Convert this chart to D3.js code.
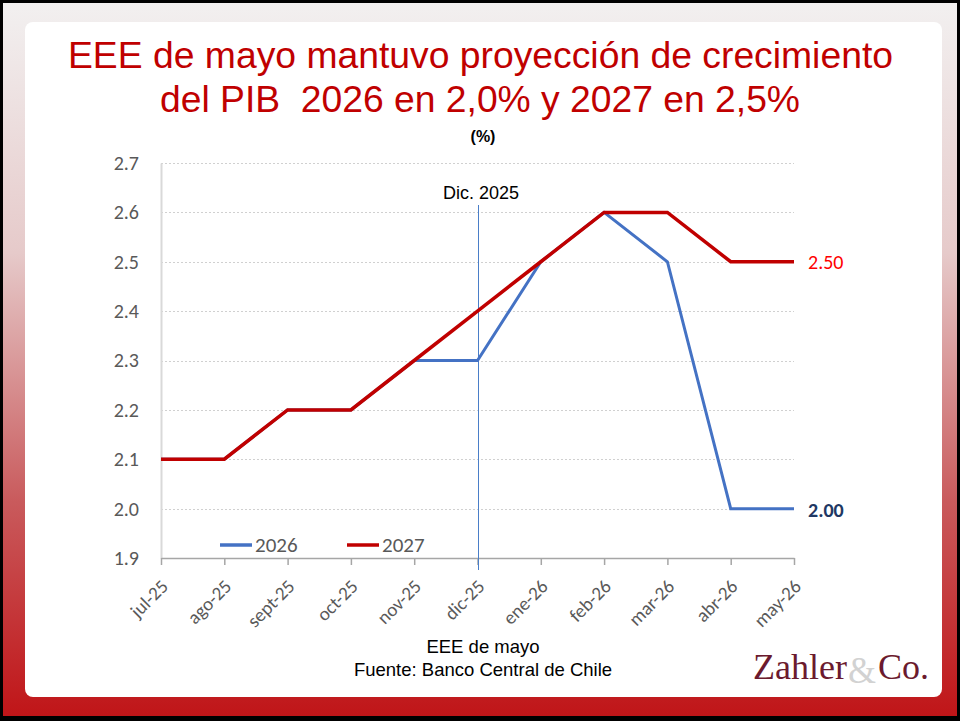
<!DOCTYPE html>
<html><head><meta charset="utf-8">
<script src="https://cdn.jsdelivr.net/npm/d3@7"></script>
<style>html,body{margin:0;padding:0;background:#fff;}svg{display:block;}</style>
</head><body>
<script>
const categories = ["jul-25","ago-25","sept-25","oct-25","nov-25","dic-25","ene-26","feb-26","mar-26","abr-26","may-26"];
const series2026 = [2.1,2.1,2.2,2.2,2.3,2.3,2.5,2.6,2.5,2.0,2.0];
const series2027 = [2.1,2.1,2.2,2.2,2.3,2.4,2.5,2.6,2.6,2.5,2.5];
const yTicks = [1.9,2.0,2.1,2.2,2.3,2.4,2.5,2.6,2.7];
const seriesNames = ["2026","2027"];
const markerCategory = "dic-25";
const markerLabel = "Dic. 2025";

const W=960,H=721;
const svg=d3.select("body").append("svg").attr("width",W).attr("height",H);
const defs=svg.append("defs");
const g1=defs.append("linearGradient").attr("id","bg").attr("x1",0).attr("y1",0).attr("x2",0).attr("y2",1);
g1.append("stop").attr("offset","0%").attr("stop-color","#f2f0f0");
g1.append("stop").attr("offset","35%").attr("stop-color","#e6caca");
g1.append("stop").attr("offset","70%").attr("stop-color","#c95a5c");
g1.append("stop").attr("offset","100%").attr("stop-color","#c01518");
svg.append("rect").attr("x",0).attr("y",0).attr("width",W).attr("height",H).attr("fill","#000");
svg.append("rect").attr("x",3).attr("y",3).attr("width",W-6).attr("height",H-8).attr("fill","url(#bg)");
svg.append("rect").attr("x",25).attr("y",22).attr("width",917).attr("height",675).attr("rx",8).attr("fill","#fff");

const arial="'Liberation Sans', Arial, sans-serif";
// title
const title=svg.append("text").attr("text-anchor","start").attr("fill","#c00000")
  .style("font-family",arial).style("font-size","36px").attr("xml:space","preserve").style("white-space","pre");
title.append("tspan").attr("x",68).attr("y",68).attr("textLength",825).attr("lengthAdjust","spacingAndGlyphs").text("EEE de mayo mantuvo proyección de crecimiento");
title.append("tspan").attr("x",160).attr("y",112).attr("textLength",640).attr("lengthAdjust","spacingAndGlyphs").text("del PIB  2026 en 2,0% y 2027 en 2,5%");
svg.append("text").attr("x",483).attr("y",142).attr("text-anchor","middle").attr("fill","#000")
  .style("font-family",arial).style("font-size","16px").style("font-weight","bold").text("(%)");

const x=d3.scalePoint().domain(categories).range([161,794]);
const y=d3.scaleLinear().domain([1.9,2.7]).range([558,163]);
const font="Carlito, Calibri, Lato, sans-serif";

// grid
svg.append("g").selectAll("line").data(yTicks.slice(1)).join("line")
  .attr("x1",161).attr("x2",794).attr("y1",d=>Math.round(y(d))+0.5).attr("y2",d=>Math.round(y(d))+0.5)
  .attr("stroke","#d0d0d0").attr("stroke-dasharray","2,2").attr("stroke-width",1);

// y axis
const ya=svg.append("g").attr("transform","translate(161,0)").call(d3.axisLeft(y).tickValues(yTicks).tickSize(0).tickPadding(22).tickFormat(d3.format(".1f")));
ya.select(".domain").attr("stroke","#d9d9d9").attr("stroke-width",2);
ya.selectAll("text").attr("fill","#595959").style("font-family",font).style("font-size","20px");

// x axis
const xa=svg.append("g").attr("transform","translate(0,558)").call(d3.axisBottom(x).tickSize(7).tickSizeOuter(0));
xa.select(".domain").attr("stroke","#a6a6a6").attr("stroke-width",1.5);
xa.selectAll(".tick line").attr("stroke","#a6a6a6").attr("stroke-width",1.5);
xa.selectAll("text").attr("fill","#595959").style("font-family",font).style("font-size","19px")
  .attr("text-anchor","end").attr("x",0).attr("y",0).attr("dy","0.35em").attr("transform","translate(3,25) rotate(-45)");

// marker line
const mx=Math.round(x(markerCategory))+0.5;
svg.append("line").attr("x1",mx).attr("x2",mx).attr("y1",205).attr("y2",570).attr("stroke","#4a7ec8").attr("stroke-width",1);
svg.append("text").attr("x",481).attr("y",199).attr("text-anchor","middle").attr("fill","#000")
  .style("font-family",arial).style("font-size","18px").text(markerLabel);

const line=d3.line().x((d,i)=>x(categories[i])).y(d=>y(d));
svg.append("path").datum(series2026).attr("d",line).attr("fill","none").attr("stroke","#4472c4").attr("stroke-width",3).attr("stroke-linejoin","miter");
svg.append("path").datum(series2027).attr("d",line).attr("fill","none").attr("stroke","#c00000").attr("stroke-width",3.5).attr("stroke-linejoin","miter");

// end labels
svg.append("text").attr("x",808).attr("y",269).attr("fill","#ff0000").style("font-family",font).style("font-size","20px").text(d3.format(".2f")(series2027[series2027.length-1]));
svg.append("text").attr("x",808).attr("y",517).attr("fill","#1f3864").style("font-family",font).style("font-size","20px").style("font-weight","bold").text(d3.format(".2f")(series2026[series2026.length-1]));

// legend
const leg=[{n:seriesNames[0],c:"#4472c4",x:220},{n:seriesNames[1],c:"#c00000",x:347}];
leg.forEach(l=>{
  svg.append("line").attr("x1",l.x).attr("x2",l.x+32).attr("y1",545).attr("y2",545).attr("stroke",l.c).attr("stroke-width",3.5);
  svg.append("text").attr("x",l.x+35).attr("y",552).attr("fill","#595959").style("font-family",font).style("font-size","21px").text(l.n);
});

// footer
svg.append("text").attr("x",483).attr("y",653).attr("text-anchor","middle").attr("fill","#000").style("font-family",arial).style("font-size","18.5px").text("EEE de mayo");
svg.append("text").attr("x",483).attr("y",676).attr("text-anchor","middle").attr("fill","#000").style("font-family",arial).style("font-size","18.5px").text("Fuente: Banco Central de Chile");

// logo
const serif="'Liberation Serif', serif";
svg.append("text").attr("x",753).attr("y",679).attr("fill","#6b1a2e").style("font-family",serif).style("font-size","36px").attr("textLength",94).attr("lengthAdjust","spacingAndGlyphs").text("Zahler");
svg.append("text").attr("x",848).attr("y",683).attr("fill","#d2d2d2").style("font-family",serif).style("font-size","38px").attr("textLength",28).attr("lengthAdjust","spacingAndGlyphs").text("&");
svg.append("text").attr("x",878).attr("y",679).attr("fill","#6b1a2e").style("font-family",serif).style("font-size","36px").attr("textLength",51).attr("lengthAdjust","spacingAndGlyphs").text("Co.");
</script>
</body></html>
